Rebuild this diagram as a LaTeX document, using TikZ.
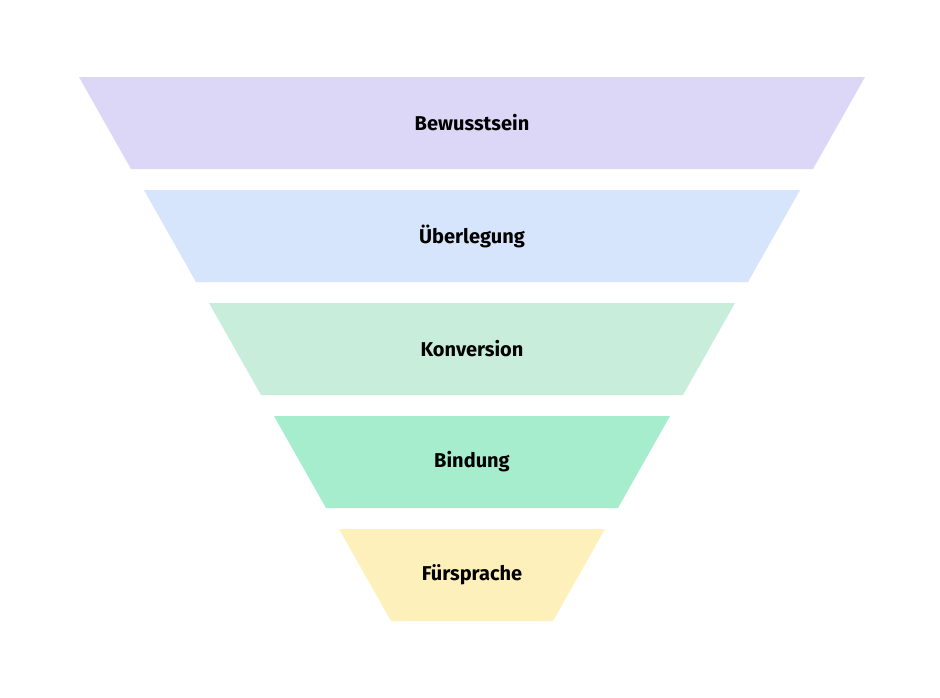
\documentclass[tikz,border=0pt]{standalone}
\usepackage{fontspec}
\setmainfont{Fira Sans}
\definecolor{c1}{HTML}{DCD6F7}
\definecolor{c2}{HTML}{D6E4FC}
\definecolor{c3}{HTML}{C8EEDB}
\definecolor{c4}{HTML}{A6EDCD}
\definecolor{c5}{HTML}{FEF0BA}
\begin{document}
\begin{tikzpicture}[x=0.75pt,y=-0.75pt,
  lbl/.style={font=\fontsize{15}{18}\selectfont\bfseries, text=black}]
\useasboundingbox[fill=white] (0,0) rectangle (940,697);
\foreach \i/\c/\t in {0/c1/Bewusstsein,1/c2/Überlegung,2/c3/Konversion,3/c4/Bindung,4/c5/Fürsprache}{
  \pgfmathsetmacro{\yt}{77+113*\i}
  \pgfmathsetmacro{\yb}{\yt+92}
  \pgfmathsetmacro{\xl}{79+65*\i}
  \pgfmathsetmacro{\xr}{865-65*\i}
  \fill[\c] (\xl,\yt) -- (\xr,\yt) -- (\xr-52,\yb) -- (\xl+52,\yb) -- cycle;
  \node[lbl] (n\i) at (472,\yt+46) {\t};
}
\end{tikzpicture}
\end{document}
